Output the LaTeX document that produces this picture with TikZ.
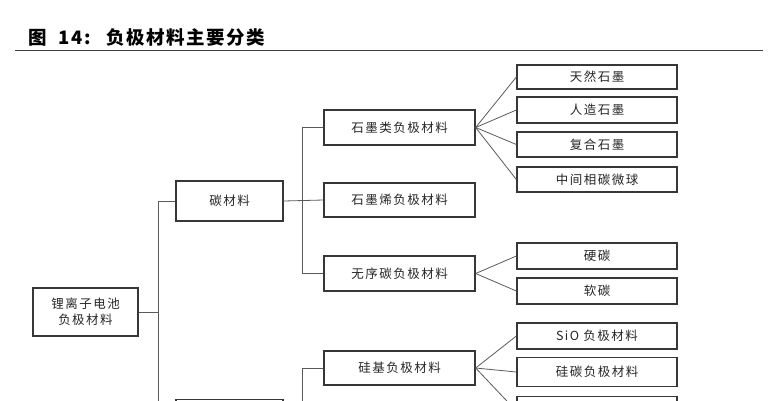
\documentclass[tikz,border=0pt]{standalone}
\usepackage{fontspec}
\newfontfamily\cjk[LetterSpace=12]{Noto Sans CJK SC}
\newfontfamily\cjkhead[LetterSpace=8]{Noto Sans CJK SC}
\definecolor{linegray}{RGB}{90,90,90}
\definecolor{boxgray}{RGB}{55,55,55}
\begin{document}
\begin{tikzpicture}[x=1pt,y=-1pt, line width=0.8pt,
    catbox/.style={
                draw=boxgray,
                line width=1.3pt,
                fill=white,
                rectangle,
                inner sep=0pt,
                align=center,
                text=black!85,
                font=\cjk\fontsize{12.5}{16}\selectfont
              },
    leafbox/.style={catbox, minimum width=160pt},
    link/.style={draw=linegray, line width=0.8pt}]

    \useasboundingbox (0,0) rectangle (783,400);
    \clip (0,0) rectangle (783,400);

    % title and rule
    \node[anchor=west, inner sep=0pt] (title) at (28,37)
        {\cjkhead\bfseries\fontsize{18.5}{22}\selectfont 图\hspace{12pt}14:\hspace{16pt}负极材料主要分类};
    \coordinate (ruleL) at (15,50.5);
    \coordinate (ruleR) at (763,50.5);
    \draw[draw=black!75, line width=1pt] (ruleL) -- (ruleR);

    % boxes
    \node[catbox, minimum width=105pt, minimum height=48pt] (root) at (85.5,312) {锂离子电池\\负极材料};
    \node[catbox, minimum width=107pt, minimum height=40pt] (carbon) at (229.5,201) {碳材料};
    \node[catbox, minimum width=107pt, minimum height=40pt] (noncarbon) at (229.5,419.5) {};

    \node[catbox, minimum width=151pt, minimum height=35pt] (graphite) at (399.5,127.5) {石墨类负极材料};
    \node[catbox, minimum width=151pt, minimum height=34pt] (graphene) at (399.5,200) {石墨烯负极材料};
    \node[catbox, minimum width=151pt, minimum height=35pt] (disorder) at (399.5,273.5) {无序碳负极材料};
    \node[catbox, minimum width=151pt, minimum height=34pt] (silicon) at (399.5,368) {硅基负极材料};

    \node[leafbox, minimum height=24pt] (natural) at (597,77) {天然石墨};
    \node[leafbox, minimum height=26pt] (artificial) at (597,110) {人造石墨};
    \node[leafbox, minimum height=25pt] (composite) at (597,144.5) {复合石墨};
    \node[leafbox, minimum height=25pt] (meso) at (597,179.5) {中间相碳微球};
    \node[leafbox, minimum height=26pt] (hard) at (597,256) {硬碳};
    \node[leafbox, minimum height=26pt] (soft) at (597,291) {软碳};
    \node[leafbox, minimum height=26pt] (sio) at (597,336) {SiO 负极材料};
    \node[leafbox, minimum height=29pt] (sic) at (597,372) {硅碳负极材料};
    \node[leafbox, minimum height=29pt] (siother) at (597,411) {};

    % trunk from the root
    \coordinate (trunkT) at (158,201);
    \coordinate (trunkB) at (158,419.5);
    \draw[link] (trunkT) -- (trunkB);
    \draw[link] (root.east) -- (root.east -| trunkT);
    \draw[link] (trunkT) -- (carbon.west);
    \draw[link] (trunkB) -- (noncarbon.west);

    % carbon branch
    \coordinate (branchT) at (302,127.5);
    \coordinate (branchB) at (302,273.5);
    \draw[link] (branchT) -- (branchB);
    \draw[link] (carbon.east) -- (graphene.west);
    \draw[link] (branchT) -- (graphite.west);
    \draw[link] (branchB) -- (disorder.west);

    % silicon branch
    \coordinate (siT) at (302,368);
    \coordinate (siB) at (302,420);
    \draw[link] (silicon.west) -- (siT) -- (siB);

    % fans
    \foreach \leaf in {natural,artificial,composite,meso}
        \draw[link] (graphite.east) -- (\leaf.west);
    \foreach \leaf in {hard,soft}
        \draw[link] (disorder.east) -- (\leaf.west);
    \foreach \leaf in {sio,sic,siother}
        \draw[link] (silicon.east) -- (\leaf.west);

\end{tikzpicture}
\end{document}
